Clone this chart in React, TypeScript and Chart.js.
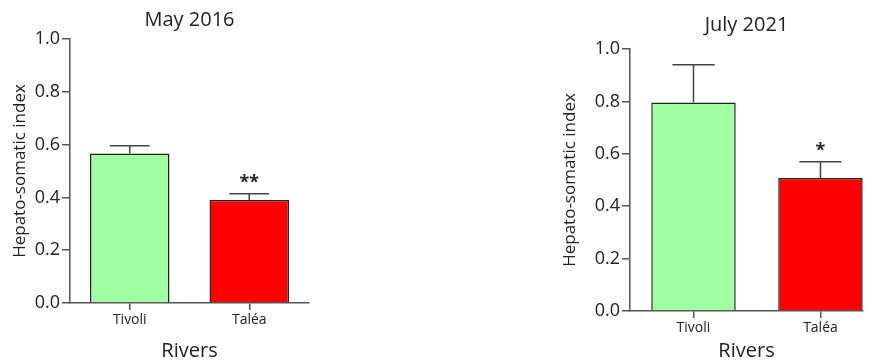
import React, { useEffect, useRef } from "react";
import { Chart, registerables } from "chart.js";

Chart.register(...registerables);

// ---- data ----
const categories = ["Tivoli", "Taléa"];
const barColors = ["#A0FFA0", "#FF0000"];
const yAxisLabel = "Hepato-somatic index";
const xAxisLabel = "Rivers";

const may2016Title = "May 2016";
const may2016Means = [0.566, 0.39];
const may2016Errors = [0.03, 0.024];
const may2016Stars = ["", "**"];

const july2021Title = "July 2021";
const july2021Means = [0.796, 0.508];
const july2021Errors = [0.144, 0.062];
const july2021Stars = ["", "*"];

const FONT = "'Open Sans', sans-serif";
const TEXT = "#222222";
const AXIS = "#555555";

type Panel = {
  title: string;
  means: number[];
  errors: number[];
  stars: string[];
  left: number;
  width: number;
  height: number;
  padRight: number;
  yAxisWidth: number;
  xAxisHeight: number;
  xMin: number;
  xMax: number;
  titlePad: { top: number; bottom: number };
  yTitlePad: number;
};

const errorBarPlugin = {
  id: "errorBars",
  afterDatasetsDraw(chart: any, _args: any, opts: any) {
    const meta = chart.getDatasetMeta(0);
    const xs = chart.scales.x;
    const ys = chart.scales.y;
    const ctx = chart.ctx;
    ctx.save();
    opts.means.forEach((m: number, i: number) => {
      const x = xs.getPixelForValue(i);
      const yBar = ys.getPixelForValue(m);
      const yTop = ys.getPixelForValue(m + opts.errors[i]);
      const bar = meta.data[i];
      const half = bar ? bar.width / 4 : 20;
      ctx.strokeStyle = "#444444";
      ctx.lineWidth = 1.5;
      ctx.beginPath();
      ctx.moveTo(x, yBar);
      ctx.lineTo(x, yTop);
      ctx.moveTo(x - half, yTop);
      ctx.lineTo(x + half, yTop);
      ctx.stroke();
      const s = opts.stars[i];
      if (s) {
        ctx.fillStyle = TEXT;
        ctx.font = `bold 18px ${FONT}`;
        ctx.textAlign = "center";
        ctx.textBaseline = "middle";
        ctx.fillText(s, x, yTop - 11);
      }
    });
    ctx.restore();
  },
};

function BarPanel({ p }: { p: Panel }) {
  const ref = useRef<HTMLCanvasElement | null>(null);
  useEffect(() => {
    if (!ref.current) return;
    const chart = new Chart(ref.current, {
      type: "bar",
      data: {
        datasets: [
          {
            data: p.means.map((m, i) => ({ x: i, y: m })),
            backgroundColor: barColors,
            borderColor: "#222222",
            borderWidth: 1.5,
            barPercentage: 0.665,
            categoryPercentage: 1,
          },
        ],
      },
      options: {
        responsive: false,
        animation: false,
        layout: { padding: { left: 0, right: p.padRight, top: 0, bottom: 0 } },
        plugins: {
          legend: { display: false },
          tooltip: { enabled: false },
          title: {
            display: true,
            text: p.title,
            fullSize: false,
            color: TEXT,
            font: { family: FONT, size: 20, weight: "normal" },
            padding: p.titlePad,
          },
          errorBars: { means: p.means, errors: p.errors, stars: p.stars },
        } as any,
        scales: {
          x: {
            type: "linear",
            min: p.xMin,
            max: p.xMax,
            offset: false,
            grace: 0,
            afterBuildTicks: (scale: any) => {
              scale.ticks = categories.map((_, i) => ({ value: i }));
            },
            afterFit: (scale: any) => {
              scale.height = p.xAxisHeight;
            },
            ticks: {
              color: TEXT,
              font: { family: FONT, size: 14 },
              padding: 2,
              autoSkip: false,
              maxRotation: 0,
              callback: (v: any) => categories[Math.round(Number(v))] ?? "",
            },
            grid: {
              offset: false,
              drawOnChartArea: false,
              drawTicks: true,
              tickLength: 7,
              color: AXIS,
              lineWidth: 1.5,
            },
            border: { display: true, color: AXIS, width: 1.5 },
            title: {
              display: true,
              text: xAxisLabel,
              color: TEXT,
              font: { family: FONT, size: 20 },
              padding: { top: 0, bottom: 0 },
            },
          },
          y: {
            type: "linear",
            min: 0,
            max: 1,
            afterFit: (scale: any) => {
              scale.width = p.yAxisWidth;
            },
            ticks: {
              stepSize: 0.2,
              color: TEXT,
              font: { family: FONT, size: 18 },
              padding: 2,
              callback: (v: any) => Number(v).toFixed(1),
            },
            grid: {
              drawOnChartArea: false,
              drawTicks: true,
              tickLength: 8,
              color: AXIS,
              lineWidth: 1.5,
            },
            border: { display: true, color: AXIS, width: 1.5 },
            title: {
              display: true,
              text: yAxisLabel,
              color: TEXT,
              font: { family: FONT, size: 17 },
              padding: { top: p.yTitlePad, bottom: 0 },
            },
          },
        },
      } as any,
      plugins: [errorBarPlugin],
    });
    return () => chart.destroy();
  }, [p]);
  return (
    <canvas
      ref={ref}
      width={p.width}
      height={p.height}
      style={{ position: "absolute", left: p.left, top: 0, display: "block" }}
    />
  );
}

const leftPanel: Panel = {
  title: may2016Title,
  means: may2016Means,
  errors: may2016Errors,
  stars: may2016Stars,
  left: 0,
  width: 330,
  height: 363,
  padRight: 21,
  yAxisWidth: 70,
  xAxisHeight: 60,
  xMin: -0.5,
  xMax: 1.5,
  titlePad: { top: 8, bottom: 7 },
  yTitlePad: 10,
};

const rightPanel: Panel = {
  title: july2021Title,
  means: july2021Means,
  errors: july2021Errors,
  stars: july2021Stars,
  left: 540,
  width: 333,
  height: 363,
  padRight: 10,
  yAxisWidth: 90,
  xAxisHeight: 52,
  xMin: -0.5,
  xMax: 1.335,
  titlePad: { top: 13, bottom: 12 },
  yTitlePad: 20,
};

export default function App() {
  return (
    <div style={{ position: "absolute", left: 0, top: 0, width: 873, height: 363, background: "#ffffff" }}>
      <BarPanel p={leftPanel} />
      <BarPanel p={rightPanel} />
    </div>
  );
}
